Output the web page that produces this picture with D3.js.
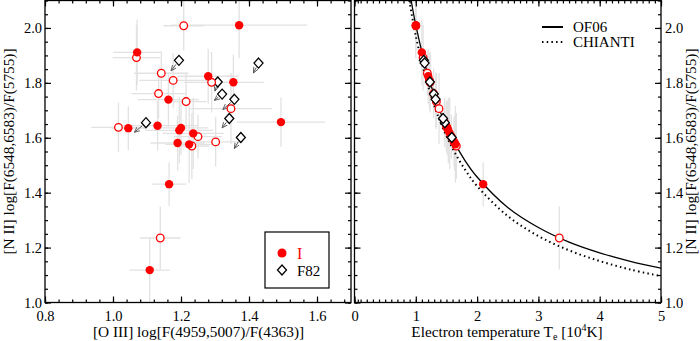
<!DOCTYPE html>
<html>
<head>
<meta charset="utf-8">
<script src="https://cdn.jsdelivr.net/npm/d3@7"></script>
<style>
  body { margin: 0; background: #fff; }
  text { font-family: "Liberation Serif", "DejaVu Serif", serif; }
</style>
</head>
<body>
<script>
// sample I, filled symbols: [O III] ratio, [N II] ratio, errors, Te (1e4 K)
var filledX  = [1.371, 1.071, 1.280, 1.354, 1.163, 1.494, 1.045, 1.131, 1.200, 1.195, 1.236, 1.190, 1.224, 1.165, 1.108];
var filledY  = [2.010, 1.911, 1.824, 1.802, 1.739, 1.657, 1.635, 1.644, 1.636, 1.627, 1.616, 1.581, 1.576, 1.431, 1.118];
var filledXe = [0.20, 0.07, 0.09, 0.09, 0.09, 0.13, 0.05, 0.12, 0.08, 0.10, 0.09, 0.08, 0.07, 0.05, 0.06];
var filledYe = [0.12, 0.12, 0.10, 0.10, 0.10, 0.09, 0.08, 0.09, 0.10, 0.12, 0.13, 0.10, 0.14, 0.08, 0.12];
var filledTe = [1.000, 1.098, 1.202, 1.232, 1.325, 1.469, 1.513, 1.495, 1.511, 1.530, 1.553, 1.634, 1.646, 2.099, 5.17];

// sample I, open symbols
var openX  = [1.208, 1.069, 1.142, 1.177, 1.290, 1.134, 1.215, 1.347, 1.016, 1.250, 1.302, 1.232, 1.139];
var openY  = [2.008, 1.892, 1.835, 1.809, 1.802, 1.761, 1.732, 1.706, 1.638, 1.604, 1.585, 1.570, 1.235];
var openXe = [0.06, 0.07, 0.08, 0.10, 0.08, 0.08, 0.06, 0.12, 0.08, 0.07, 0.08, 0.05, 0.06];
var openYe = [0.09, 0.12, 0.08, 0.10, 0.11, 0.09, 0.10, 0.13, 0.09, 0.08, 0.09, 0.12, 0.115];
var openTe = [1.002, 1.119, 1.188, 1.222, 1.232, 1.291, 1.336, 1.379, 1.507, 1.580, 1.624, 1.661, 3.341];

// F82 (upper limits, arrows point to tip)
var f82X    = [1.194, 1.428, 1.308, 1.321, 1.357, 1.097, 1.342, 1.376];
var f82Y    = [1.882, 1.872, 1.803, 1.759, 1.740, 1.655, 1.670, 1.601];
var f82TipX = [1.171, 1.413, 1.300, 1.298, 1.323, 1.063, 1.321, 1.357];
var f82TipY = [1.844, 1.836, 1.770, 1.736, 1.703, 1.620, 1.636, 1.561];
var f82Te   = [1.131, 1.143, 1.230, 1.294, 1.323, 1.473, 1.444, 1.587];

// model curves
var of06T   = [0.925, 1.0, 1.2, 1.4, 1.6, 1.8, 2.0, 2.5, 3.0, 3.5, 4.0, 4.5, 5.0];
var of06R   = [2.100, 2.010, 1.826, 1.694, 1.595, 1.518, 1.457, 1.346, 1.273, 1.220, 1.181, 1.150, 1.125];
var chiantiT = [0.895, 1.0, 1.2, 1.4, 1.6, 1.8, 2.0, 2.5, 3.0, 3.5, 4.0, 4.5, 5.0];
var chiantiR = [2.100, 1.971, 1.789, 1.658, 1.561, 1.485, 1.424, 1.315, 1.242, 1.190, 1.151, 1.120, 1.096];

var xTicksL = [0.8, 1.0, 1.2, 1.4, 1.6];
var xTicksR = [0, 1, 2, 3, 4, 5];
var yTicks  = [1.0, 1.2, 1.4, 1.6, 1.8, 2.0];

var W = 700, H = 341;
var svg = d3.select("body").append("svg").attr("width", W).attr("height", H);

var xL = d3.scaleLinear().domain([0.8, 1.7]).range([45, 351]);
var xR = d3.scaleLinear().domain([0, 5]).range([354.5, 661]);
var y  = d3.scaleLinear().domain([1.0, 2.1]).range([302.5, 0.5]);

var errCol = "#e2e2e2";
var red = "#ff0000";

// clip paths
var defs = svg.append("defs");
defs.append("clipPath").attr("id", "clipL").append("rect")
    .attr("x", xL.range()[0]).attr("y", y.range()[1])
    .attr("width", xL.range()[1] - xL.range()[0]).attr("height", y.range()[0] - y.range()[1]);
defs.append("clipPath").attr("id", "clipR").append("rect")
    .attr("x", xR.range()[0]).attr("y", y.range()[1])
    .attr("width", xR.range()[1] - xR.range()[0]).attr("height", y.range()[0] - y.range()[1]);

function group(xs, ys, xe, ye) {
    return xs.map(function(d, i) { return {x: d, y: ys[i], xe: xe ? xe[i] : 0, ye: ye ? ye[i] : 0}; });
}

// ---------- left panel ----------
var gL = svg.append("g").attr("clip-path", "url(#clipL)");
var filledL = group(filledX, filledY, filledXe, filledYe);
var openL = group(openX, openY, openXe, openYe);
var allL = filledL.concat(openL);

gL.selectAll("line.xe").data(allL).enter().append("line")
    .attr("x1", function(d) { return xL(d.x - d.xe); })
    .attr("x2", function(d) { return xL(d.x + d.xe); })
    .attr("y1", function(d) { return y(d.y); })
    .attr("y2", function(d) { return y(d.y); })
    .attr("stroke", errCol).attr("stroke-width", 1.3);
gL.selectAll("line.ye").data(allL).enter().append("line")
    .attr("x1", function(d) { return xL(d.x); })
    .attr("x2", function(d) { return xL(d.x); })
    .attr("y1", function(d) { return y(d.y - d.ye); })
    .attr("y2", function(d) { return y(d.y + d.ye); })
    .attr("stroke", errCol).attr("stroke-width", 1.3);

// arrows for F82
defs.append("marker").attr("id", "arr")
    .attr("viewBox", "0 0 10 10").attr("refX", 9).attr("refY", 5)
    .attr("markerWidth", 6).attr("markerHeight", 6).attr("orient", "auto")
    .append("path").attr("d", "M0,1 L9,5 L0,9").attr("fill", "none")
    .attr("stroke", "#555").attr("stroke-width", 1.4);

var f82 = f82X.map(function(d, i) { return {x: d, y: f82Y[i], tx: f82TipX[i], ty: f82TipY[i], te: f82Te[i]}; });
gL.selectAll("line.arrow").data(f82).enter().append("line")
    .attr("x1", function(d) {
        var dx = xL(d.tx) - xL(d.x), dy = y(d.ty) - y(d.y), L = Math.hypot(dx, dy);
        return xL(d.x) + dx / L * 5;
    })
    .attr("y1", function(d) {
        var dx = xL(d.tx) - xL(d.x), dy = y(d.ty) - y(d.y), L = Math.hypot(dx, dy);
        return y(d.y) + dy / L * 5;
    })
    .attr("x2", function(d) { return xL(d.tx); })
    .attr("y2", function(d) { return y(d.ty); })
    .attr("stroke", "#555").attr("stroke-width", 1)
    .attr("marker-end", "url(#arr)");

function diamond(sel, xs) {
    sel.append("path")
        .attr("d", "M0,-5 L4.5,0 L0,5 L-4.5,0 Z")
        .attr("transform", function(d) { return "translate(" + xs(d) + "," + y(d.y) + ")"; })
        .attr("fill", "white").attr("stroke", "black").attr("stroke-width", 1.3);
}

gL.selectAll("g.f82").data(f82).enter().append("g")
    .call(function(s) { diamond(s, function(d) { return xL(d.x); }); });

gL.selectAll("circle.open").data(openL).enter().append("circle")
    .attr("cx", function(d) { return xL(d.x); }).attr("cy", function(d) { return y(d.y); })
    .attr("r", 3.8).attr("fill", "white").attr("stroke", red).attr("stroke-width", 1.3);
gL.selectAll("circle.filled").data(filledL).enter().append("circle")
    .attr("cx", function(d) { return xL(d.x); }).attr("cy", function(d) { return y(d.y); })
    .attr("r", 4.2).attr("fill", red);

// ---------- right panel ----------
var gR = svg.append("g").attr("clip-path", "url(#clipR)");
var filledR = filledTe.map(function(t, i) { return {x: t, y: filledY[i], ye: filledYe[i]}; });
var openR = openTe.map(function(t, i) { return {x: t, y: openY[i], ye: openYe[i]}; });

gR.selectAll("line.ye").data(filledR.concat(openR)).enter().append("line")
    .attr("x1", function(d) { return xR(d.x); })
    .attr("x2", function(d) { return xR(d.x); })
    .attr("y1", function(d) { return y(d.y - d.ye); })
    .attr("y2", function(d) { return y(d.y + d.ye); })
    .attr("stroke", errCol).attr("stroke-width", 1.3);

var line = d3.line().curve(d3.curveCatmullRom)
    .x(function(d) { return xR(d[0]); }).y(function(d) { return y(d[1]); });
gR.append("path").datum(of06T.map(function(t, i) { return [t, of06R[i]]; }))
    .attr("d", line).attr("fill", "none").attr("stroke", "black").attr("stroke-width", 1.3);
gR.append("path").datum(chiantiT.map(function(t, i) { return [t, chiantiR[i]]; }))
    .attr("d", line).attr("fill", "none").attr("stroke", "black").attr("stroke-width", 2)
    .attr("stroke-dasharray", "1.5,3.2");

gR.selectAll("circle.open").data(openR).enter().append("circle")
    .attr("cx", function(d) { return xR(d.x); }).attr("cy", function(d) { return y(d.y); })
    .attr("r", 3.8).attr("fill", "white").attr("stroke", red).attr("stroke-width", 1.3);
gR.selectAll("circle.filled").data(filledR).enter().append("circle")
    .attr("cx", function(d) { return xR(d.x); }).attr("cy", function(d) { return y(d.y); })
    .attr("r", 4.2).attr("fill", red);
gR.selectAll("g.f82").data(f82).enter().append("g")
    .call(function(s) { diamond(s, function(d) { return xR(d.te); }); });

// ---------- axes ----------
var fmt1 = d3.format(".1f");

function minor(scale, step) {
    var dom = scale.domain();
    return d3.range(Math.round(dom[0] / step), Math.round(dom[1] / step) + 1).map(function(k) { return +(k * step).toFixed(4); });
}

function styleAxis(g) {
    g.select(".domain").remove();
    g.selectAll("line").attr("stroke", "black").attr("stroke-width", 1.2);
    g.selectAll("text").attr("font-size", 14.5).attr("fill", "black")
        .attr("font-family", "Liberation Serif, serif");
}

function panelAxes(xs, xTicks, xStep, xFmt, yLabelsRight) {
    var x0 = xs.range()[0], x1 = xs.range()[1];
    var y0 = y.range()[0], y1 = y.range()[1];
    // bottom
    svg.append("g").attr("transform", "translate(0," + y0 + ")")
        .call(d3.axisBottom(xs).tickValues(xTicks).tickSize(-6).tickPadding(8).tickFormat(xFmt)).call(styleAxis);
    svg.append("g").attr("transform", "translate(0," + y0 + ")")
        .call(d3.axisBottom(xs).tickValues(minor(xs, xStep)).tickSize(-3).tickFormat("")).call(styleAxis);
    // top
    svg.append("g").attr("transform", "translate(0," + y1 + ")")
        .call(d3.axisTop(xs).tickValues(xTicks).tickSize(-6).tickFormat("")).call(styleAxis);
    svg.append("g").attr("transform", "translate(0," + y1 + ")")
        .call(d3.axisTop(xs).tickValues(minor(xs, xStep)).tickSize(-3).tickFormat("")).call(styleAxis);
    // left
    svg.append("g").attr("transform", "translate(" + x0 + ",0)")
        .call(d3.axisLeft(y).tickValues(yTicks).tickSize(-6).tickPadding(3)
            .tickFormat(yLabelsRight ? "" : fmt1)).call(styleAxis);
    svg.append("g").attr("transform", "translate(" + x0 + ",0)")
        .call(d3.axisLeft(y).tickValues(minor(y, 0.05)).tickSize(-3).tickFormat("")).call(styleAxis);
    // right
    svg.append("g").attr("transform", "translate(" + x1 + ",0)")
        .call(d3.axisRight(y).tickValues(yTicks).tickSize(-6).tickPadding(4)
            .tickFormat(yLabelsRight ? fmt1 : "")).call(styleAxis);
    svg.append("g").attr("transform", "translate(" + x1 + ",0)")
        .call(d3.axisRight(y).tickValues(minor(y, 0.05)).tickSize(-3).tickFormat("")).call(styleAxis);
    // frame
    svg.append("rect").attr("x", x0).attr("y", y1).attr("width", x1 - x0).attr("height", y0 - y1)
        .attr("fill", "none").attr("stroke", "black").attr("stroke-width", 1.3);
}

panelAxes(xL, xTicksL, 0.04, fmt1, false);
panelAxes(xR, xTicksR, 0.1, d3.format("d"), true);

// axis titles
var yTitle = "[N II] log[F(6548,6583)/F(5755)]";
svg.append("text").attr("transform", "translate(13.5,151.5) rotate(-90)")
    .attr("text-anchor", "middle").attr("font-size", 15.3).text(yTitle);
svg.append("text").attr("transform", "translate(696,151.5) rotate(-90)")
    .attr("text-anchor", "middle").attr("font-size", 15.3).text(yTitle);

svg.append("text").attr("x", 198.5).attr("y", 337)
    .attr("text-anchor", "middle").attr("font-size", 15.3)
    .text("[O III] log[F(4959,5007)/F(4363)]");

var tx = svg.append("text").attr("x", 507).attr("y", 337)
    .attr("text-anchor", "middle").attr("font-size", 15.3);
tx.append("tspan").text("Electron temperature T");
tx.append("tspan").attr("font-size", 10).attr("dy", 3).text("e");
tx.append("tspan").attr("dy", -3).text(" [10");
tx.append("tspan").attr("font-size", 10).attr("dy", -6).text("4");
tx.append("tspan").attr("dy", 6).text("K]");

// left legend
var lg = svg.append("g");
lg.append("rect").attr("x", 265).attr("y", 232).attr("width", 64).attr("height", 56)
    .attr("fill", "white").attr("stroke", "black").attr("stroke-width", 1.2);
lg.append("circle").attr("cx", 282).attr("cy", 253).attr("r", 4.5).attr("fill", red);
lg.append("text").attr("x", 297).attr("y", 259).attr("font-size", 16).attr("fill", red).text("I");
lg.append("path").attr("d", "M282,265 L286.5,270 L282,275 L277.5,270 Z")
    .attr("fill", "white").attr("stroke", "black").attr("stroke-width", 1.3);
lg.append("text").attr("x", 297).attr("y", 275.5).attr("font-size", 15).text("F82");

// right legend
var rg = svg.append("g");
rg.append("line").attr("x1", 542).attr("x2", 563).attr("y1", 27).attr("y2", 27)
    .attr("stroke", "black").attr("stroke-width", 2);
rg.append("text").attr("x", 573).attr("y", 32).attr("font-size", 15).text("OF06");
rg.append("line").attr("x1", 542).attr("x2", 563).attr("y1", 42).attr("y2", 42)
    .attr("stroke", "black").attr("stroke-width", 2).attr("stroke-dasharray", "1.5,3.2");
rg.append("text").attr("x", 573).attr("y", 46.5).attr("font-size", 15).text("CHIANTI");
</script>
</body>
</html>
